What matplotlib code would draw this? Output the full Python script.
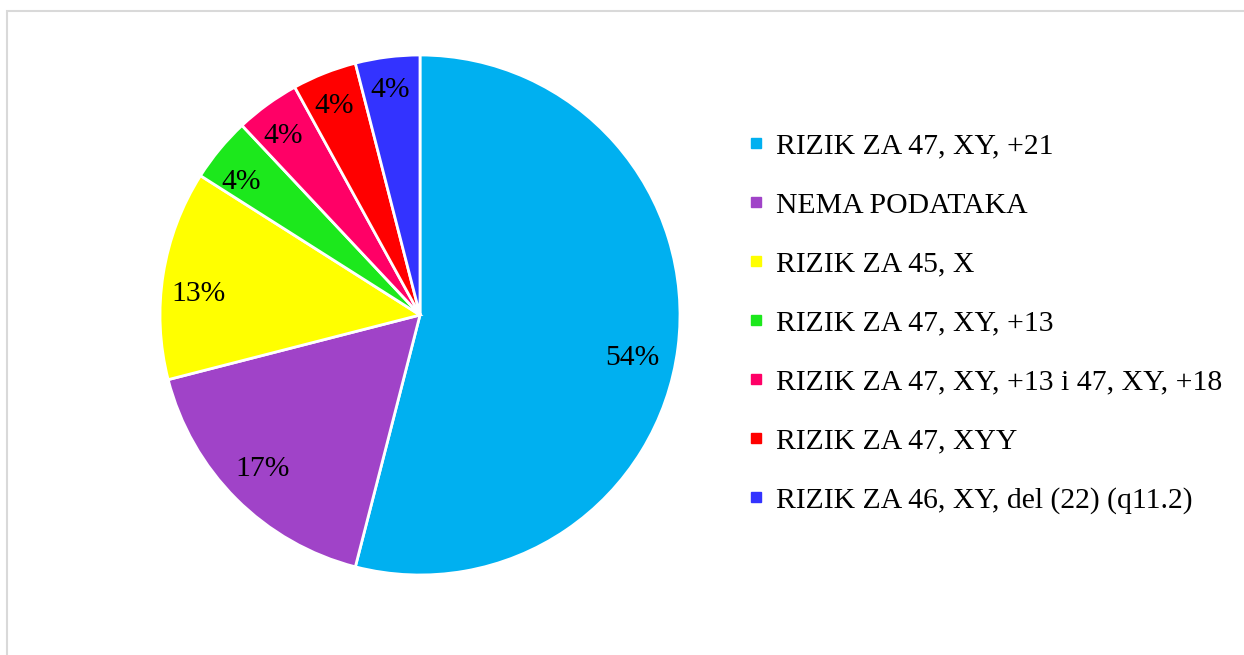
#!/usr/bin/env python3

import matplotlib
matplotlib.use("Agg")
from matplotlib import pyplot
from matplotlib.lines import Line2D
from matplotlib.patches import Rectangle

# distribution of risk findings (percent of cases)
categories = ["RIZIK ZA 47, XY, +21",
			"NEMA PODATAKA",
			"RIZIK ZA 45, X",
			"RIZIK ZA 47, XY, +13",
			"RIZIK ZA 47, XY, +13 i 47, XY, +18",
			"RIZIK ZA 47, XYY",
			"RIZIK ZA 46, XY, del (22) (q11.2)"]
shares = [54, 17, 13, 4, 4, 4, 4]
colors = ["#00B0F0", "#A043C8", "#FFFF00", "#1CE81C", "#FF0066", "#FF0000",
		"#3333FF"]

pyplot.rcParams["font.family"] = ["Liberation Serif", "DejaVu Serif"]
W, H = 1244, 655
fig = pyplot.figure(figsize = (W / 100, H / 100), dpi = 100)

# light grey frame, cut by the right and bottom edges
fig.patches.append(Rectangle((7 / W, -0.1), 1.2, 1 - 11 / H + 0.1,
							transform = fig.transFigure, fill = False,
							edgecolor = "#D9D9D9", lw = 1.5))

cx, cy, r = 420, 315, 260
ax = fig.add_axes([(cx - r) / W, (H - cy - r) / H, 2 * r / W, 2 * r / H])
wedges, texts, autotexts = ax.pie(shares, colors = colors, startangle = 90,
								counterclock = False, autopct = "%d%%",
								pctdistance = 0.85, radius = 1,
								wedgeprops = dict(edgecolor = "white",
												linewidth = 2),
								textprops = dict(fontsize = 21.3,
												color = "black"))
# small nudges (pixels) so labels sit where the original places them
nudges = [(-7, -15), (-1, 2), (-3, -14), (-9, -8), (-7, 0), (-5, 4), (-2, 6)]
for t, (dx, dy) in zip(autotexts, nudges):
	x, y = t.get_position()
	t.set_position((x + dx / r, y + dy / r))

ax.set_xlim(-1, 1)
ax.set_ylim(-1, 1)
ax.set_aspect("equal")
ax.axis("off")

handles = [Line2D([], [], ls = "none", marker = "s", markersize = 7.5,
				markerfacecolor = c, markeredgecolor = c) for c in colors]
fig.legend(handles, categories, loc = "upper left",
			bbox_to_anchor = (748 / W, 1 - 133 / H), frameon = False,
			fontsize = 21.4, handlelength = 0.55, handletextpad = 0.4,
			labelspacing = 1.08, borderaxespad = 0, borderpad = 0)

pyplot.savefig("out.png", dpi = 100)
pyplot.close()
